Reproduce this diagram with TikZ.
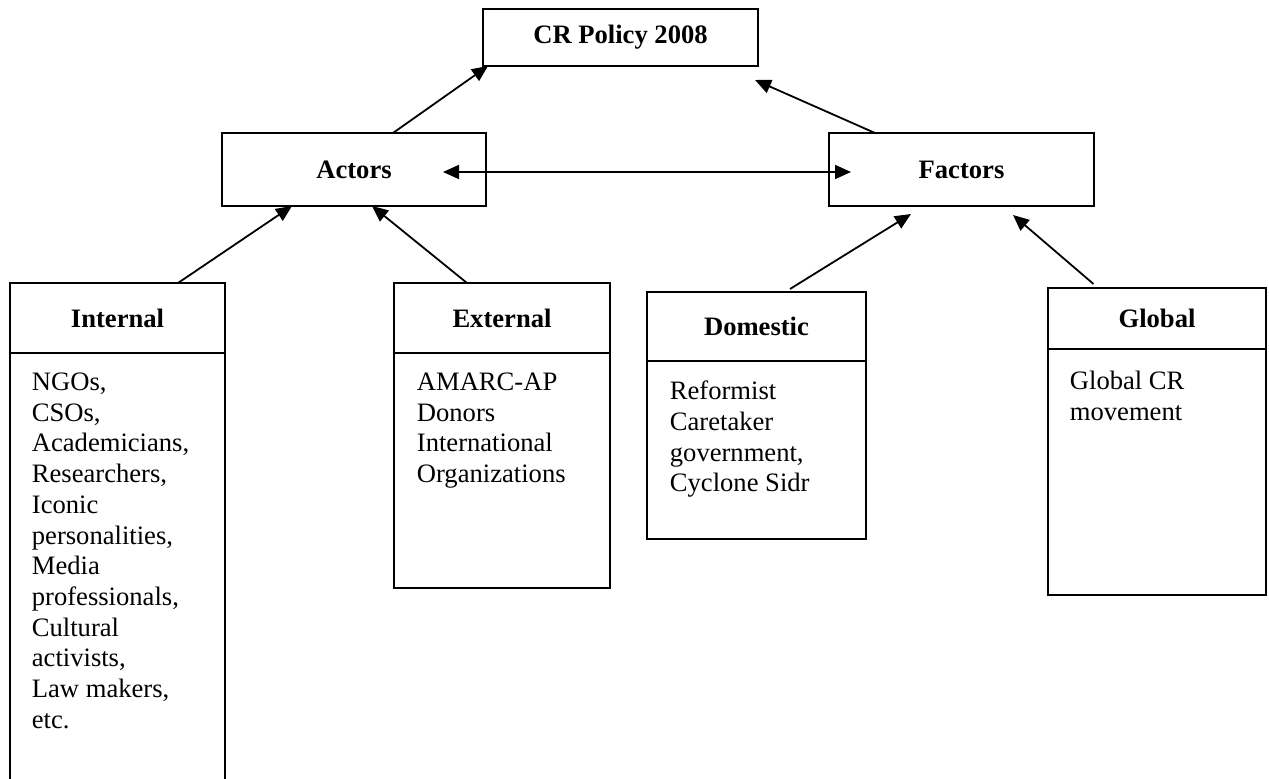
\documentclass[tikz,border=0pt]{standalone}
\usepackage{fontspec}
\setmainfont{Liberation Serif}
\usetikzlibrary{arrows.meta,positioning}

\begin{document}
\begin{tikzpicture}[x=0.5pt, y=-0.5pt, line width=0.9pt, >={Triangle[length=8pt,width=7pt]}]
    \tikzstyle{box}=[draw, inner sep=0pt, outer sep=0pt, font=\fontsize{13.3}{15.35}\selectfont\bfseries]
    \tikzstyle{body}=[draw, inner sep=0pt, outer sep=0pt, below=0pt of #1]
    \tikzstyle{list}=[inner sep=0pt, anchor=north west, align=left, font=\fontsize{13.3}{15.35}\selectfont]
    \useasboundingbox (0,0) rectangle (1269,779);
    % top levels
    \node[box, minimum width=137.5pt, minimum height=28.5pt] (policy) at (620.5,37.5) {CR Policy 2008};
    \node[box, minimum width=132pt, minimum height=36.5pt] (actors) at (354,169.5) {Actors};
    \node[box, minimum width=132.5pt, minimum height=36.5pt] (factors) at (961.5,169.5) {Factors};
    % headers
    \node[box, minimum width=107.5pt, minimum height=35pt] (internal) at (117.5,318) {Internal};
    \node[box, minimum width=108pt, minimum height=35pt] (external) at (502,318) {External};
    \node[box, minimum width=109.5pt, minimum height=34.5pt] (domestic) at (756.5,326.5) {Domestic};
    \node[box, minimum width=109pt, minimum height=30.5pt] (global) at (1157,318.5) {Global};
    % bodies
    \node[body=internal, minimum width=107.5pt, minimum height=225pt] (internalbody) {};
    \node[body=external, minimum width=108pt, minimum height=117.5pt] (externalbody) {};
    \node[body=domestic, minimum width=109.5pt, minimum height=89pt] (domesticbody) {};
    \node[body=global, minimum width=109pt, minimum height=123pt] (globalbody) {};
    % lists
    \node[list] (internallist) at ([xshift=10.5pt,yshift=-9.5pt]internalbody.north west)
      {NGOs,\\CSOs,\\Academicians,\\Researchers,\\Iconic\\personalities,\\Media\\professionals,\\Cultural\\activists,\\Law makers,\\etc.};
    \node[list] (externallist) at ([xshift=11pt,yshift=-9.5pt]externalbody.north west)
      {AMARC-AP\\Donors\\International\\Organizations};
    \node[list] (domesticlist) at ([xshift=11pt,yshift=-9.5pt]domesticbody.north west)
      {Reformist\\Caretaker\\government,\\Cyclone Sidr};
    \node[list] (globallist) at ([xshift=10.5pt,yshift=-10.5pt]globalbody.north west)
      {Global CR\\movement};
    % arrows
    \draw[->] ([xshift=19.5pt]actors.north) -- ([xshift=2.5pt]policy.south west);
    \draw[->] ([xshift=-43.25pt]factors.north) -- ([xshift=-1.5pt,yshift=-7pt]policy.south east);
    \draw[<->] ([xshift=-21.5pt,yshift=-1.25pt]actors.east) -- ([xshift=11pt,yshift=-1.25pt]factors.west);
    \draw[->] ([xshift=30.25pt]internal.north) -- ([xshift=-31pt]actors.south);
    \draw[->] ([xshift=-17.5pt]external.north) -- ([xshift=9pt]actors.south);
    \draw[->] ([xshift=16.75pt,yshift=1.5pt]domestic.north) -- ([xshift=-25.25pt,yshift=-4pt]factors.south);
    \draw[->] ([xshift=-31.75pt,yshift=2pt]global.north) -- ([xshift=25.75pt,yshift=-4.5pt]factors.south);
\end{tikzpicture}
\end{document}
